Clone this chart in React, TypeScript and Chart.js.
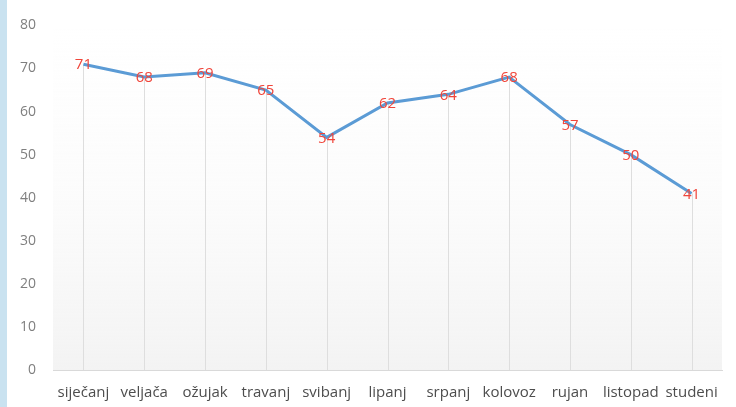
import React, { useEffect, useRef } from "react";
import { Chart, registerables } from "chart.js";

Chart.register(...registerables);

const categories = ["siječanj", "veljača", "ožujak", "travanj", "svibanj", "lipanj", "srpanj", "kolovoz", "rujan", "listopad", "studeni"];
const values = [71, 68, 69, 65, 54, 62, 64, 68, 57, 50, 41];
const yTicks = [0, 10, 20, 30, 40, 50, 60, 70, 80];

const FONT = "'Open Sans', Lato, sans-serif";

const dropAndLabels = {
  id: "dropAndLabels",
  beforeDatasetsDraw(chart: any) {
    const ctx = chart.ctx;
    const meta = chart.getDatasetMeta(0);
    const yScale = chart.scales.y;
    const area = chart.chartArea;
    const base = yScale.getPixelForValue(0);
    ctx.save();
    const g = ctx.createLinearGradient(0, area.top, 0, area.bottom);
    g.addColorStop(0, "rgba(242,242,242,0)");
    g.addColorStop(0.5, "rgba(242,242,242,0.25)");
    g.addColorStop(1, "rgba(238,238,238,0.7)");
    ctx.fillStyle = g;
    ctx.fillRect(area.left, area.top, area.right - area.left, area.bottom - area.top);
    ctx.strokeStyle = "#dedede";
    ctx.lineWidth = 1;
    meta.data.forEach((pt: any) => {
      ctx.beginPath();
      ctx.moveTo(Math.round(pt.x) + 0.5, pt.y);
      ctx.lineTo(Math.round(pt.x) + 0.5, base);
      ctx.stroke();
    });
    ctx.restore();
  },
  afterDatasetsDraw(chart: any) {
    const ctx = chart.ctx;
    const meta = chart.getDatasetMeta(0);
    ctx.save();
    ctx.fillStyle = "#f0453a";
    ctx.font = "15px " + FONT;
    ctx.textAlign = "center";
    ctx.textBaseline = "middle";
    meta.data.forEach((pt: any, i: number) => {
      ctx.fillText(String(values[i]), pt.x, pt.y + 1);
    });
    ctx.restore();
  },
};

export default function App() {
  const ref = useRef<HTMLCanvasElement | null>(null);
  useEffect(() => {
    if (!ref.current) return;
    const chart = new Chart(ref.current, {
      type: "line",
      data: {
        labels: categories,
        datasets: [
          {
            data: values,
            borderColor: "#5b9bd5",
            borderWidth: 3,
            pointRadius: 0,
            tension: 0,
            fill: false,
          },
        ],
      },
      options: {
        animation: false,
        responsive: false,
        maintainAspectRatio: false,
        layout: { padding: { top: 25, right: 14, bottom: 0, left: 0 } },
        plugins: { legend: { display: false }, tooltip: { enabled: false }, title: { display: false } },
        scales: {
          x: {
            offset: true,
            grid: { display: false, drawTicks: false },
            border: { display: true, color: "#d9d9d9", width: 1 },
            ticks: {
              autoSkip: false,
              maxRotation: 0,
              minRotation: 0,
              padding: 14,
              color: "#4d4d4d",
              font: { family: FONT, size: 15 },
            },
            afterFit(scale: any) {
              scale.height = 37;
            },
          },
          y: {
            min: 0,
            max: 80,
            afterBuildTicks(scale: any) {
              scale.ticks = yTicks.map((v) => ({ value: v }));
            },
            grid: { display: false, drawTicks: false },
            border: { display: false },
            ticks: {
              padding: 17,
              color: "#7f7f7f",
              font: { family: FONT, size: 14 },
            },
            afterFit(scale: any) {
              scale.width = 53;
            },
          },
        },
      },
      plugins: [dropAndLabels],
    });
    return () => chart.destroy();
  }, []);
  return (
    <div style={{ position: "fixed", left: 0, top: 0, width: 736, height: 407, background: "#ffffff", overflow: "hidden" }}>
      <div style={{ position: "absolute", left: 0, top: 0, width: 7, height: 407, background: "#c9e2f0" }} />
      <canvas ref={ref} width={736} height={407} style={{ position: "absolute", left: 0, top: 0, width: 736, height: 407 }} />
    </div>
  );
}
